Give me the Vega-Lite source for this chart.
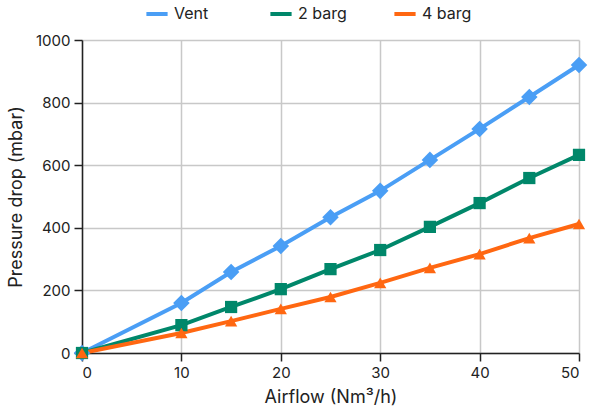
{
  "$schema": "https://vega.github.io/schema/vega-lite/v6.json",
  "width": 497,
  "height": 313,
  "autosize": {"type": "none"},
  "padding": {"left": 82, "top": 40, "right": 12, "bottom": 65},
  "config": {
    "font": "Inter",
    "view": {"stroke": null},
    "axis": {
      "labelFont": "Inter", "labelFontSize": 15, "labelColor": "#222",
      "titleFont": "Inter", "titleFontSize": 18, "titleFontWeight": "normal", "titleColor": "#222",
      "domainColor": "#222", "domainWidth": 1.5, "tickColor": "#222", "tickSize": 8, "tickWidth": 1.5,
      "gridColor": "#c8c8c8", "gridWidth": 1.5
    },
    "legend": {"labelFont": "Inter", "labelFontSize": 16, "labelColor": "#222"}
  },
  "data": {"values": [
    {"x": 0, "y": 0, "s": "Vent"}, {"x": 10, "y": 160, "s": "Vent"}, {"x": 15, "y": 259, "s": "Vent"},
    {"x": 20, "y": 342, "s": "Vent"}, {"x": 25, "y": 434, "s": "Vent"}, {"x": 30, "y": 518, "s": "Vent"},
    {"x": 35, "y": 617, "s": "Vent"}, {"x": 40, "y": 716, "s": "Vent"}, {"x": 45, "y": 818, "s": "Vent"},
    {"x": 50, "y": 920, "s": "Vent"},
    {"x": 0, "y": 0, "s": "2 barg"}, {"x": 10, "y": 89, "s": "2 barg"}, {"x": 15, "y": 147, "s": "2 barg"},
    {"x": 20, "y": 204, "s": "2 barg"}, {"x": 25, "y": 268, "s": "2 barg"}, {"x": 30, "y": 329, "s": "2 barg"},
    {"x": 35, "y": 403, "s": "2 barg"}, {"x": 40, "y": 479, "s": "2 barg"}, {"x": 45, "y": 559, "s": "2 barg"},
    {"x": 50, "y": 633, "s": "2 barg"},
    {"x": 0, "y": 0, "s": "4 barg"}, {"x": 10, "y": 64, "s": "4 barg"}, {"x": 15, "y": 102, "s": "4 barg"},
    {"x": 20, "y": 141, "s": "4 barg"}, {"x": 25, "y": 179, "s": "4 barg"}, {"x": 30, "y": 224, "s": "4 barg"},
    {"x": 35, "y": 272, "s": "4 barg"}, {"x": 40, "y": 316, "s": "4 barg"}, {"x": 45, "y": 367, "s": "4 barg"},
    {"x": 50, "y": 412, "s": "4 barg"}
  ]},
  "encoding": {
    "x": {"field": "x", "type": "quantitative", "title": "Airflow (Nm³/h)",
      "scale": {"domain": [0, 50], "nice": false},
      "axis": {"values": [0, 10, 20, 30, 40, 50], "labelPadding": 4, "titlePadding": 8}},
    "y": {"field": "y", "type": "quantitative", "title": "Pressure drop (mbar)",
      "scale": {"domain": [0, 1000], "nice": false},
      "axis": {"values": [0, 200, 400, 600, 800, 1000], "format": "d", "labelPadding": 4, "titlePadding": 10}}
  },
  "layer": [
    {"mark": {"type": "line", "strokeWidth": 4},
     "encoding": {"color": {"field": "s", "type": "nominal", "title": null,
      "scale": {"domain": ["Vent", "2 barg", "4 barg"], "range": ["#4a9ef5", "#00876a", "#ff6711"]},
      "legend": {"orient": "none", "legendX": 62, "legendY": -39, "direction": "horizontal", "columns": 3,
        "gridAlign": "all", "columnPadding": 38, "symbolType": "stroke", "symbolStrokeWidth": 4, "symbolSize": 450, "symbolOffset": 0}}}},
    {"mark": {"type": "point", "filled": true, "opacity": 1, "size": 150},
     "encoding": {
       "color": {"field": "s", "type": "nominal", "legend": null,
         "scale": {"domain": ["Vent", "2 barg", "4 barg"], "range": ["#4a9ef5", "#00876a", "#ff6711"]}},
       "shape": {"field": "s", "type": "nominal",
       "scale": {"domain": ["Vent", "2 barg", "4 barg"], "range": ["M-1.35,0L0,-1.35L1.35,0L0,1.35Z", "square", "triangle-up"]},
       "legend": null}}}
  ],
  "resolve": {"legend": {"color": "independent"}}
}
